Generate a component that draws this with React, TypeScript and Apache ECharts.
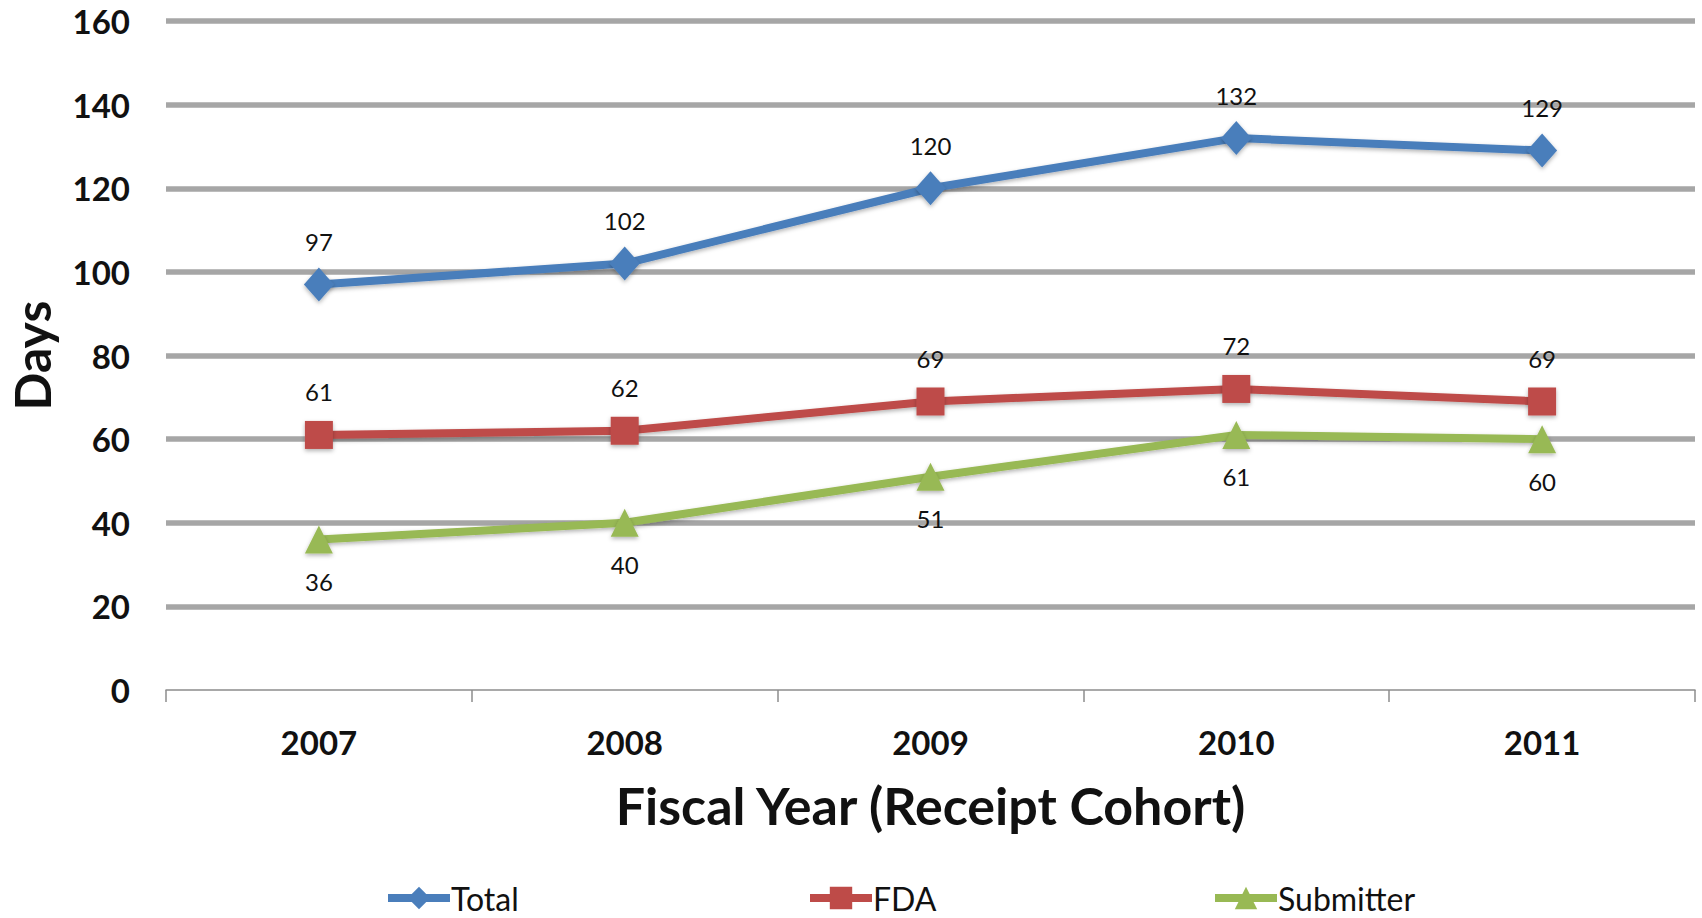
import React, { useEffect, useRef } from "react";
import * as echarts from "echarts";

// Review time per fiscal-year receipt cohort, in days
const years = ["2007", "2008", "2009", "2010", "2011"];
const totalDays = [97, 102, 120, 132, 129];
const fdaDays = [61, 62, 69, 72, 69];
const submitterDays = [36, 40, 51, 61, 60];

const yMin = 0;
const yMax = 160;
const yStep = 20;

const FONT = "Lato, 'Open Sans', sans-serif";
const BLUE = "#4A7EBB";
const RED = "#BE4B48";
const GREEN = "#98B954";

const lineShadow = {
  shadowColor: "rgba(0,0,0,0.3)",
  shadowBlur: 4,
  shadowOffsetY: 2,
};

function makeSeries(
  name: string,
  data: number[],
  color: string,
  symbol: string,
  symbolSize: number | number[],
  labelPos: "top" | "bottom",
  labelDist: number
) {
  return {
    name,
    type: "line",
    data,
    symbol,
    symbolSize,
    lineStyle: { color, width: 8, ...lineShadow },
    itemStyle: { color, ...lineShadow },
    label: {
      show: true,
      position: labelPos,
      distance: labelDist,
      color: "#111",
      fontFamily: FONT,
      fontSize: 24,
      lineHeight: 24,
    },
    z: 3,
  };
}

function legendAt(name: string, left: number) {
  return {
    data: [name],
    left,
    top: 877,
    itemWidth: 62,
    itemHeight: 28,
    itemGap: 1,
    lineStyle: { width: 8 },
    textStyle: { fontFamily: FONT, fontSize: 32, color: "#111", padding: [0, 0, 0, -4] },
    selectedMode: false,
  };
}

export default function App() {
  const ref = useRef<HTMLDivElement>(null);

  useEffect(() => {
    if (!ref.current) return;
    const chart = echarts.init(ref.current, undefined, { renderer: "svg" });
    chart.setOption({
      animation: false,
      backgroundColor: "#ffffff",
      grid: {
        left: 166,
        right: 7,
        top: 21,
        bottom: 228,
        containLabel: false,
        outerBoundsMode: "none",
      },
      legend: [
        legendAt("Total", 379),
        legendAt("FDA", 801),
        legendAt("Submitter", 1206),
      ],
      xAxis: {
        type: "category",
        data: years,
        boundaryGap: true,
        name: "Fiscal Year (Receipt Cohort)",
        nameLocation: "middle",
        nameGap: 89,
        nameTextStyle: { fontFamily: FONT, fontSize: 52, fontWeight: "bold", color: "#111" },
        axisLine: { show: true, lineStyle: { color: "#8c8c8c", width: 1.5 } },
        axisTick: { show: true, length: 12, lineStyle: { color: "#8c8c8c", width: 1.5 } },
        axisLabel: {
          margin: 35,
          fontFamily: FONT,
          fontSize: 33,
          fontWeight: "bold",
          color: "#111",
        },
      },
      yAxis: {
        type: "value",
        min: yMin,
        max: yMax,
        interval: yStep,
        name: "Days",
        nameLocation: "middle",
        nameGap: 112,
        nameRotate: 90,
        nameTextStyle: {
          fontFamily: FONT,
          fontSize: 50,
          lineHeight: 44,
          fontWeight: "bold",
          color: "#111",
        },
        axisLine: { show: false },
        axisTick: { show: false },
        axisLabel: {
          margin: 36,
          fontFamily: FONT,
          fontSize: 33,
          fontWeight: "bold",
          color: "#111",
        },
        splitLine: {
          show: true,
          showMinLine: false,
          lineStyle: { color: "#a6a6a6", width: 5.5 },
        },
      },
      series: [
        makeSeries("Total", totalDays, BLUE, "diamond", [30, 34], "top", 14),
        makeSeries("FDA", fdaDays, RED, "rect", 28, "top", 17),
        makeSeries("Submitter", submitterDays, GREEN, "triangle", [28, 28], "bottom", 16),
      ],
    });
    return () => chart.dispose();
  }, []);

  return (
    <div
      ref={ref}
      style={{ position: "fixed", left: 0, top: 0, width: 1702, height: 918, background: "#fff" }}
    />
  );
}
